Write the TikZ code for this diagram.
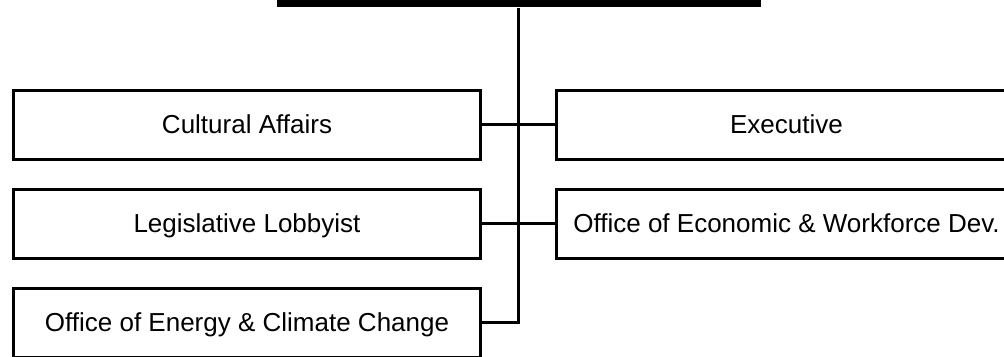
\documentclass[tikz,border=0pt]{standalone}
\usepackage{fontspec}
\setmainfont{Liberation Sans}
\usetikzlibrary{positioning}

\begin{document}
\begin{tikzpicture}[
        x=0.75pt, y=-0.75pt,
        node distance=20pt and 54.5pt,
        unit/.style={rectangle, draw=black, line width=2.5pt, minimum width=350.25pt, minimum height=51.75pt, inner sep=0pt, text height=17.6pt, text depth=4.1pt, font=\fontsize{19.5}{22}\selectfont},
        wideunit/.style={unit, minimum width=345pt},
        link/.style={draw=black, line width=2.5pt}
    ]
        \useasboundingbox (0,0) rectangle (1004,357);
        \node[fill=black, inner sep=0pt, minimum width=363pt, minimum height=5.25pt, anchor=north] (top) at (518.5,0) {};
        \node[unit] (L1) at (247,124.75) {Cultural Affairs};
        \node[unit, below=of L1] (L2) {Legislative Lobbyist};
        \node[unit, below=of L2] (L3) {Office of Energy \& Climate Change};
        \node[wideunit, right=of L1] (R1) {Executive};
        \node[wideunit, right=of L2] (R2) {Office of Economic \& Workforce Dev.};
        \draw[link] (L3.east) -| (top.south);
        \draw[link] (L1.east) -- (R1.west);
        \draw[link] (L2.east) -- (R2.west);
    \end{tikzpicture}
\end{document}
